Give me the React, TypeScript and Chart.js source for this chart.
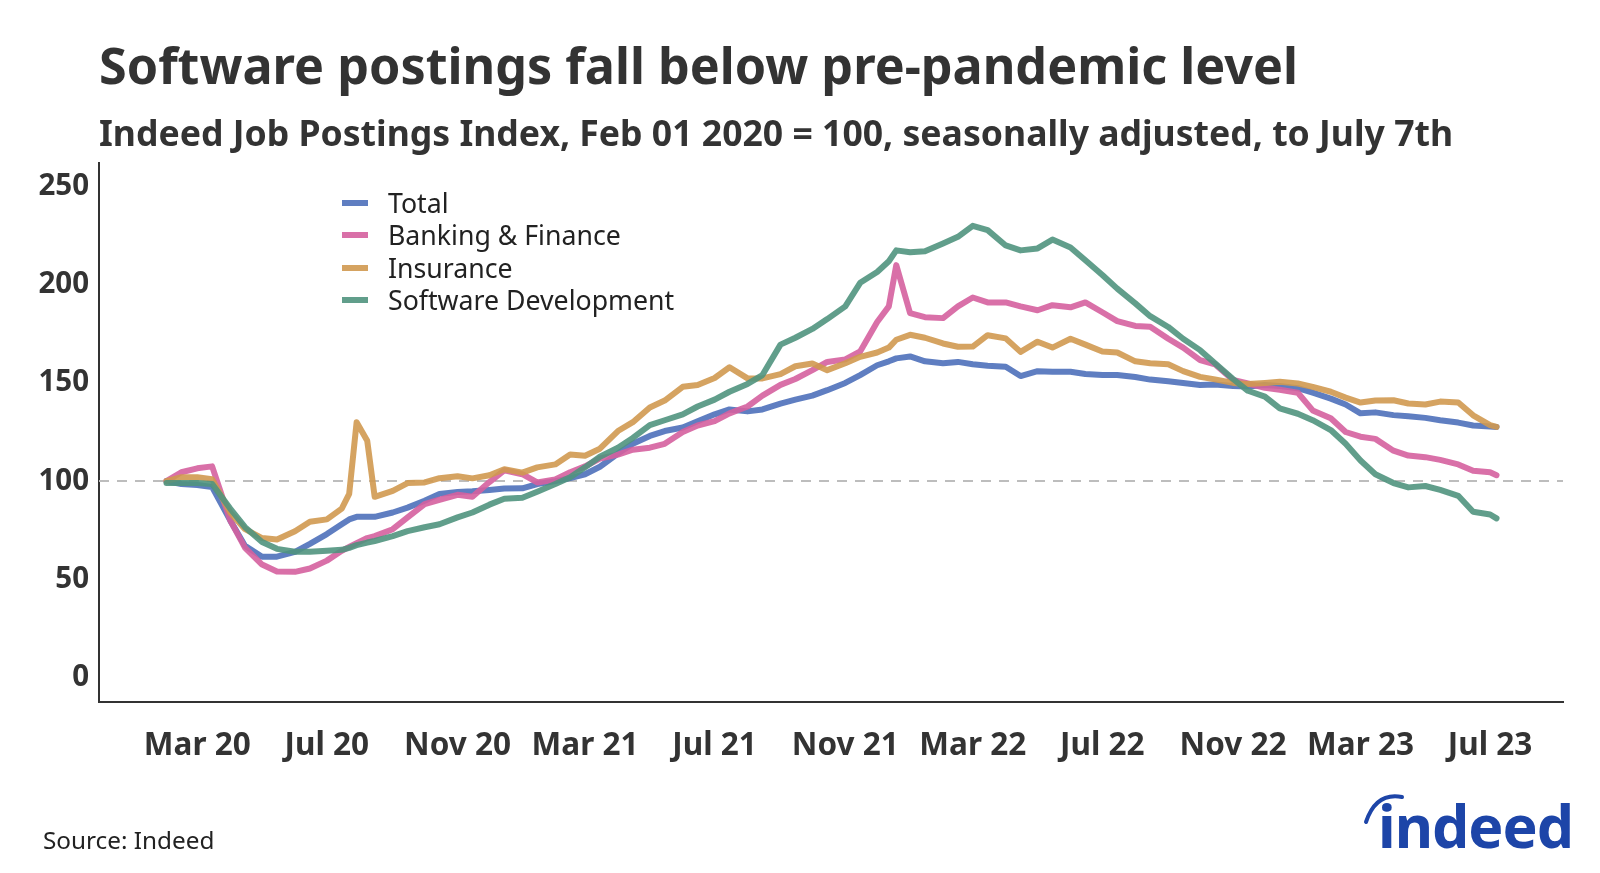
import React, { useEffect, useRef } from "react";
import { Chart, registerables } from "chart.js";

Chart.register(...registerables);

// ---------- data ----------
const dates = [
  "2020-02-01", "2020-02-15", "2020-03-01", "2020-03-15", "2020-04-01", "2020-04-15",
  "2020-05-01", "2020-05-15", "2020-06-01", "2020-06-15", "2020-07-01", "2020-07-15",
  "2020-07-22", "2020-07-29", "2020-08-08", "2020-08-15", "2020-09-01", "2020-09-15",
  "2020-10-01", "2020-10-15", "2020-11-01", "2020-11-15", "2020-12-01", "2020-12-15",
  "2021-01-01", "2021-01-15", "2021-02-01", "2021-02-15", "2021-03-01", "2021-03-15",
  "2021-04-01", "2021-04-15", "2021-05-01", "2021-05-15", "2021-06-01", "2021-06-15",
  "2021-07-01", "2021-07-15", "2021-08-01", "2021-08-15", "2021-09-01", "2021-09-15",
  "2021-10-01", "2021-10-15", "2021-11-01", "2021-11-15", "2021-12-01", "2021-12-12",
  "2021-12-19", "2022-01-01", "2022-01-15", "2022-02-01", "2022-02-15", "2022-03-01",
  "2022-03-15", "2022-04-01", "2022-04-15", "2022-05-01", "2022-05-15", "2022-06-01",
  "2022-06-15", "2022-07-01", "2022-07-15", "2022-08-01", "2022-08-15", "2022-09-01",
  "2022-09-15", "2022-10-01", "2022-10-15", "2022-11-01", "2022-11-15", "2022-12-01",
  "2022-12-15", "2023-01-01", "2023-01-15", "2023-02-01", "2023-02-15", "2023-03-01",
  "2023-03-15", "2023-04-01", "2023-04-15", "2023-05-01", "2023-05-15", "2023-06-01",
  "2023-06-15", "2023-07-01", "2023-07-07",
];

const total = [
  100, 98.5, 98, 97, 80, 67, 61.5, 61.5, 64, 68, 73, 78,
  80.5, 81.8, 81.8, 81.8, 84, 86.5, 90, 93.5, 94.5, 94.8, 95.5, 96.2,
  96.3, 98.5, 100, 101.5, 103.5, 107.3, 114, 119, 123, 125.5, 127.3, 130.5,
  134, 136.5, 135.5, 136.5, 139.5, 141.5, 143.5, 146.3, 150, 154, 159, 161,
  162.5, 163.5, 161, 160, 160.7, 159.5, 158.8, 158.2, 153.5, 156, 155.7, 155.7,
  154.5, 154, 154, 153, 151.7, 150.8, 150, 148.9, 149.2, 148.4, 148.2, 148.9,
  148.4, 147.3, 145, 142, 139, 134.5, 135, 133.6, 133, 132.2, 131, 129.8,
  128.3, 127.8, 127.6,
];

const banking = [
  100, 104.5, 106.5, 107.5, 80, 66, 57.5, 54, 53.8, 55.5, 59.5, 64.5,
  66.5, 68.4, 71, 72, 75.5, 81.5, 88.3, 90.5, 93, 92, 99.5, 105.5,
  103.5, 99.3, 100.8, 104.5, 107.5, 111.5, 113.5, 116, 117, 119, 125, 128.3,
  130.5, 134.5, 138, 143.5, 149, 152, 156.5, 160.7, 162, 166, 181, 189,
  210, 185.5, 183.5, 183, 189, 193.5, 191, 191, 189, 187, 189.6, 188.5,
  191, 186, 181.5, 179, 178.6, 172.5, 168, 161.6, 159.5, 151.5, 149.7, 147.5,
  146.5, 145, 136, 132, 125, 122.6, 121.5, 115.5, 113, 112.2, 110.8, 108.5,
  105.3, 104.5, 103,
];

const insurance = [
  100, 102, 102, 101, 84, 75.5, 71, 70.3, 74.5, 79.3, 80.5, 86,
  93.5, 130, 120.5, 92, 95, 99, 99.3, 101.5, 102.5, 101.4, 103, 106,
  104.3, 107, 108.5, 113.5, 112.9, 116.5, 125.5, 130, 137.5, 141, 148, 148.9,
  152.5, 158, 152.3, 152.3, 154.5, 158.5, 159.9, 156.5, 160, 163.3, 165.5, 168,
  172, 174.5, 173, 170.1, 168.4, 168.5, 174.3, 172.7, 165.8, 171, 168, 172.5,
  169.5, 166, 165.5, 161, 160, 159.5, 156, 153.1, 151.8, 150, 149.5, 150,
  150.6, 149.7, 148, 145.5, 142.5, 140, 141, 141.2, 139.5, 139, 140.5, 140,
  133.5, 128.5, 127.6,
];

const software = [
  99, 99, 99, 98.5, 86, 76.5, 69, 65.5, 64, 64, 64.5, 65,
  66, 67.4, 68.7, 69.5, 72, 74.5, 76.5, 78, 81.5, 84, 88, 91,
  91.5, 94.6, 98.5, 102, 107, 112.4, 117, 122, 128.5, 131, 134, 138,
  141.5, 145.5, 149.5, 154, 169.5, 173, 177.5, 182.5, 189, 201, 206.5, 212,
  217.5, 216.5, 217, 221, 224.4, 230, 227.8, 220, 217.5, 218.5, 223, 219,
  212.5, 205, 198, 190.5, 184, 178.5, 172.5, 166.7, 160, 152, 146, 143,
  137, 134.3, 131, 126, 119, 110.5, 103.5, 99, 96.8, 97.5, 95.5, 92.5,
  84.4, 83, 81,
];

const seriesNames = ["Total", "Banking & Finance", "Insurance", "Software Development"];
const seriesColors = [
  "rgba(78,112,186,0.9)",
  "rgba(213,97,158,0.9)",
  "rgba(208,153,80,0.9)",
  "rgba(80,148,126,0.9)",
];

const xTickDates = [
  "2020-03-01", "2020-07-01", "2020-11-01", "2021-03-01", "2021-07-01", "2021-11-01",
  "2022-03-01", "2022-07-01", "2022-11-01", "2023-03-01", "2023-07-01",
];
const xTickLabels = [
  "Mar 20", "Jul 20", "Nov 20", "Mar 21", "Jul 21", "Nov 21",
  "Mar 22", "Jul 22", "Nov 22", "Mar 23", "Jul 23",
];
const yTicks = [0, 50, 100, 150, 200, 250];
const referenceLevel = 100;

const titleText = "Software postings fall below pre-pandemic level";
const subtitleText = "Indeed Job Postings Index, Feb 01 2020 = 100, seasonally adjusted, to July 7th";
const sourceText = "Source: Indeed";

// ---------- helpers ----------
const ORIGIN = Date.UTC(2020, 1, 1);
function dayIndex(s: string): number {
  const [y, m, d] = s.split("-").map(Number);
  return (Date.UTC(y, m - 1, d) - ORIGIN) / 86400000;
}

const FONT = "'Noto Sans', 'Open Sans', sans-serif";
const TEXT = "#333333";

const refLinePlugin = {
  id: "refLine",
  beforeDatasetsDraw(chart: any) {
    const { ctx, chartArea, scales } = chart;
    const y = scales.y.getPixelForValue(referenceLevel);
    ctx.save();
    ctx.strokeStyle = "#bdbdbd";
    ctx.lineWidth = 2;
    ctx.setLineDash([10, 8]);
    ctx.beginPath();
    ctx.moveTo(chartArea.left, y);
    ctx.lineTo(chartArea.right, y);
    ctx.stroke();
    ctx.restore();
  },
};

export default function App() {
  const canvasRef = useRef<HTMLCanvasElement | null>(null);

  useEffect(() => {
    document.body.style.margin = "0";
    document.body.style.overflow = "hidden";
    const canvas = canvasRef.current;
    if (!canvas) return;
    const seriesValues = [total, banking, insurance, software];
    const datasets = seriesValues.map((vals, i) => ({
      label: seriesNames[i],
      data: dates.map((d, j) => ({ x: dayIndex(d), y: vals[j] })),
      borderColor: seriesColors[i],
      backgroundColor: seriesColors[i],
      borderWidth: 6,
      pointRadius: 0,
      pointHoverRadius: 0,
      tension: 0,
      borderJoinStyle: "round" as const,
      borderCapStyle: "round" as const,
      order: 4 - i,
    }));

    const chart = new Chart(canvas, {
      type: "line",
      data: { datasets },
      plugins: [refLinePlugin],
      options: {
        animation: false,
        responsive: false,
        maintainAspectRatio: false,
        layout: { padding: { left: 0, top: 163, right: 37, bottom: 101 } },
        plugins: {
          legend: { display: false },
          title: { display: false },
          tooltip: { enabled: false },
        },
        events: [],
        scales: {
          x: {
            type: "linear",
            min: -63.5,
            max: 1314.6,
            grid: { display: false, drawTicks: false },
            border: { display: true, color: "#333333", width: 2 },
            afterBuildTicks: (scale: any) => {
              scale.ticks = xTickDates.map((d) => ({ value: dayIndex(d) }));
            },
            afterFit: (scale: any) => {
              scale.height = 70;
            },
            ticks: {
              autoSkip: false,
              maxRotation: 0,
              minRotation: 0,
              padding: 25,
              color: TEXT,
              font: { family: FONT, size: 31.5, weight: "bold" },
              callback: (_v: any, index: number) => xTickLabels[index],
            },
          },
          y: {
            type: "linear",
            min: -12.5,
            max: 262,
            grid: { display: false, drawTicks: false },
            border: { display: true, color: "#333333", width: 2 },
            afterBuildTicks: (scale: any) => {
              scale.ticks = yTicks.map((v) => ({ value: v }));
            },
            afterFit: (scale: any) => {
              scale.width = 99;
            },
            ticks: {
              padding: 10,
              color: TEXT,
              font: { family: FONT, size: 29.5, weight: "bold" },
              callback: (v: any) => String(v),
            },
          },
        },
      },
    });
    return () => chart.destroy();
  }, []);

  const legendRowsY = [203, 235.3, 267.5, 299.8];

  return (
    <div
      style={{
        position: "relative",
        width: 1600,
        height: 873,
        background: "#ffffff",
        fontFamily: FONT,
        color: TEXT,
        overflow: "hidden",
      }}
    >
      <canvas
        ref={canvasRef}
        width={1600}
        height={873}
        style={{ position: "absolute", left: 0, top: 0, width: 1600, height: 873 }}
      />
      <div
        style={{
          position: "absolute",
          left: 99,
          top: 40,
          fontSize: 50.3,
          fontWeight: 700,
          lineHeight: 1,
          whiteSpace: "nowrap",
        }}
      >
        {titleText}
      </div>
      <div
        style={{
          position: "absolute",
          left: 99,
          top: 114.5,
          fontSize: 35.6,
          fontWeight: 700,
          lineHeight: 1,
          whiteSpace: "nowrap",
        }}
      >
        {subtitleText}
      </div>
      {seriesNames.map((name, i) => (
        <div
          key={name}
          style={{
            position: "absolute",
            left: 342,
            top: legendRowsY[i] - 16,
            height: 32,
            display: "flex",
            alignItems: "center",
            whiteSpace: "nowrap",
          }}
        >
          <span
            style={{
              display: "inline-block",
              width: 26,
              height: 6,
              background: seriesColors[i],
              marginRight: 20,
            }}
          />
          <span style={{ fontSize: 26.7, lineHeight: "32px", color: "#222" }}>{name}</span>
        </div>
      ))}
      <div
        style={{
          position: "absolute",
          left: 43,
          top: 828,
          fontSize: 24.3,
          lineHeight: 1,
          whiteSpace: "nowrap",
          color: "#222",
        }}
      >
        {sourceText}
      </div>
      <svg
        width={260}
        height={90}
        style={{ position: "absolute", left: 1340, top: 780 }}
        viewBox="0 0 260 90"
      >
        <path
          d="M 26 42 Q 36 12 62 17"
          fill="none"
          stroke="#1d45a8"
          strokeWidth={4}
          strokeLinecap="round"
        />
      </svg>
      <div
        style={{
          position: "absolute",
          left: 1378,
          top: 796,
          fontSize: 59,
          fontWeight: 700,
          lineHeight: 1,
          color: "#1d45a8",
          letterSpacing: -1,
          whiteSpace: "nowrap",
        }}
      >
        indeed
      </div>
    </div>
  );
}
